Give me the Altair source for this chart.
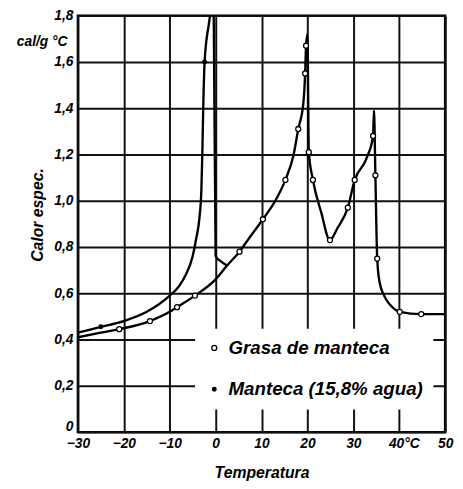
import altair as alt
import pandas as pd

# ---- data ----
series_names = ["Grasa de manteca", "Manteca (15,8% agua)"]

grasa_t = [-30, -25, -21, -14.3, -10, -8.4, -4.5, 0, 2.5, 5.2, 7, 10.3, 13, 15.2, 17, 18,
           19.1, 19.5, 19.7, 20, 20.3, 21.2, 23, 24.9, 26.5, 28.8, 30.3, 32.8, 34.3, 34.5,
           34.8, 35.2, 35.7, 36.7, 38, 40.1, 44.8, 50]
grasa_v = [0.41, 0.43, 0.445, 0.48, 0.52, 0.54, 0.59, 0.66, 0.72, 0.78, 0.83, 0.92, 1.0, 1.09, 1.2, 1.31,
           1.42, 1.55, 1.67, 1.72, 1.21, 1.09, 0.95, 0.83, 0.88, 0.97, 1.09, 1.18, 1.28, 1.39,
           1.11, 0.75, 0.65, 0.59, 0.55, 0.52, 0.51, 0.51]
grasa_mark = [0, 0, 1, 1, 0, 1, 1, 0, 0, 1, 0, 1, 0, 1, 0, 1,
              0, 1, 1, 0, 1, 1, 0, 1, 0, 1, 1, 0, 1, 0,
              1, 1, 0, 0, 0, 1, 1, 0]

manteca_t = [-30, -25, -20, -15, -10, -8, -6.5, -5, -4.2, -3.5, -3.1, -2.9, -2.7, -2.4,
             -1.5, -0.7, -0.4, 0, 1, 2.5]
manteca_v = [0.43, 0.455, 0.48, 0.52, 0.59, 0.63, 0.68, 0.76, 0.84, 0.93, 1.05, 1.2, 1.4, 1.6,
             1.76, 1.84, 1.78, 0.76, 0.74, 0.72]
manteca_mark = [0, 1, 0, 0, 0, 0, 0, 0, 0, 0, 0, 0, 0, 1,
                0, 0, 0, 0, 0, 0]

x_ticks = [-30, -20, -10, 0, 10, 20, 30, 40, 50]
y_ticks = [0, 0.2, 0.4, 0.6, 0.8, 1.0, 1.2, 1.4, 1.6, 1.8]

rows = []
for name, ts, vs, ms in [(series_names[0], grasa_t, grasa_v, grasa_mark),
                         (series_names[1], manteca_t, manteca_v, manteca_mark)]:
    for i, (t, v, m) in enumerate(zip(ts, vs, ms)):
        rows.append({"T": t, "cp": v, "mark": m, "serie": name, "idx": i})
df = pd.DataFrame(rows)

FONT = "Liberation Sans Narrow, Liberation Sans, DejaVu Sans"

x_enc = alt.X("T:Q", scale=alt.Scale(domain=[-30, 50], nice=False),
              axis=alt.Axis(values=x_ticks, title="Temperatura", labelFlush=False,
                            labelExpr="datum.value == 40 ? '40°C' : datum.label",
                            labelAlign={"condition": {"test": "datum.value == 40", "value": "left"}, "value": "center"},
                            labelOffset={"condition": {"test": "datum.value == 40", "value": -11}, "value": 0},
                            titleY=41, titleBaseline="middle"))
y_enc = alt.Y("cp:Q", scale=alt.Scale(domain=[0, 1.8], nice=False),
              axis=alt.Axis(values=y_ticks, title="Calor espec.",
                            labelExpr="datum.value == 0 ? '0' : replace(format(datum.value, '.1f'), '.', ',')",
                            labelOffset={"condition": {"test": "datum.value == 0", "value": -6}, "value": 0},
                            titleX=-41, titleY=202, titleAngle=270, titleBaseline="middle"))

lines = alt.Chart(df).mark_line(color="black", strokeWidth=2.4, interpolate="monotone", clip=True).encode(
    x=x_enc, y=y_enc, detail="serie:N", order="idx:Q")

points = alt.Chart(df).transform_filter("datum.mark == 1").mark_point(
    filled=True, stroke="black", strokeWidth=1.3, opacity=1, clip=True).encode(
    x=x_enc, y=y_enc,
    fill=alt.Fill("serie:N", scale=alt.Scale(domain=series_names, range=["white", "black"]),
                  legend=alt.Legend(title=None, orient="none", legendX=119, legendY=318,
                                    fillColor="white", padding=10, rowPadding=22,
                                    labelFont=FONT, labelFontSize=19, labelFontStyle="italic",
                                    labelFontWeight="bold", labelColor="black", labelOffset=5,
                                    labelLimit=0,
                                    symbolStrokeColor="black", symbolStrokeWidth=1.3)),
    size=alt.Size("serie:N", scale=alt.Scale(domain=series_names, range=[26, 14]),
                  legend=alt.Legend(title=None, orient="none", legendX=119, legendY=318)),
)

chart = alt.layer(lines, points).properties(
    width=373, height=423,
    autosize=alt.AutoSizeParams(type="none"),
    padding={"left": 71, "top": 4, "right": 10, "bottom": 54},
    title=alt.TitleParams("cal/g °C", anchor="start", frame="group", dx=-62, dy=45,
                          font=FONT, fontSize=14, fontStyle="italic", fontWeight="bold",
                          color="black", align="left"),
).configure_view(stroke="black", strokeWidth=2.5).configure_axis(
    grid=True, gridColor="#111", gridWidth=2, gridOpacity=1, domain=False, ticks=False,
    labelFont=FONT, labelFontSize=14, labelFontStyle="italic", labelFontWeight="bold",
    labelColor="black", labelPadding=5,
    titleFont=FONT, titleFontSize=16, titleFontStyle="italic", titleFontWeight="bold",
    titleColor="black",
)

chart.save("out.html", embed_options={"renderer": "svg", "actions": False})
